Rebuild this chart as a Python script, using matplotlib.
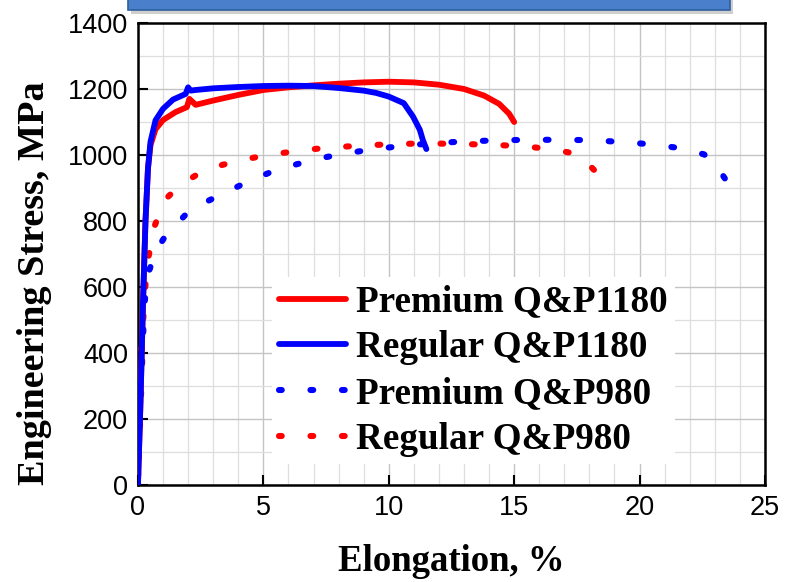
import numpy as np
import matplotlib.pyplot as plt
from matplotlib.patches import FancyBboxPatch
from matplotlib.ticker import MultipleLocator

# Premium Q&P1180 (red, solid)
prem1180_x = [0, 0.1, 0.2, 0.3, 0.4, 0.5, 0.7, 1.0, 1.5, 1.95, 2.05, 2.3, 3, 4, 5, 6, 7, 8, 9, 10,
              11, 12, 13, 13.8, 14.4, 14.8, 15.0]
prem1180_y = [0, 250, 550, 800, 960, 1030, 1078, 1106, 1130, 1145, 1170, 1152, 1165, 1182, 1197, 1205,
              1211, 1216, 1220, 1222, 1220, 1213, 1200, 1180, 1155, 1125, 1100]

# Regular Q&P1180 (blue, solid)
reg1180_x = [0, 0.1, 0.2, 0.3, 0.4, 0.5, 0.7, 1.0, 1.4, 1.9, 2.0, 2.1, 2.3, 3, 4, 5, 6, 7, 8, 9,
             9.5, 10, 10.6, 10.97, 11.24, 11.36, 11.5]
reg1180_y = [0, 250, 550, 800, 960, 1040, 1105, 1140, 1168, 1185, 1205, 1195, 1197, 1202, 1206, 1209,
             1210, 1209, 1203, 1195, 1188, 1177, 1157, 1116, 1076, 1045, 1018]

# Premium Q&P980 (blue, dotted)
prem980_x = [0, 0.08, 0.16, 0.24, 0.3, 0.44, 0.72, 1.14, 1.6, 2.07, 3.14, 4.33, 5.26, 6.33, 7.39,
             8.45, 9.65, 11.04, 12.24, 13.4, 14.59, 15.79, 16.96, 18.0, 19.19, 20.35, 21.5, 22.57,
             23.0, 23.4]
prem980_y = [0, 180, 360, 520, 585, 648, 710, 760, 795, 833, 874, 917, 947, 972, 992, 1007, 1020,
             1031, 1038, 1042, 1045, 1046, 1046, 1045, 1040, 1033, 1022, 1002, 975, 929]

# Regular Q&P980 (red, dotted)
reg980_x = [0, 0.05, 0.12, 0.19, 0.25, 0.32, 0.41, 0.55, 0.68, 0.88, 1.14, 1.52, 1.87, 2.43, 3.36,
            4.33, 5.35, 6.86, 7.92, 9.08, 10.18, 11.38, 12.57, 14.06, 15.23, 16.36, 17.38, 17.8, 18.18]
reg980_y = [0, 237, 389, 468, 561, 626, 687, 742, 788, 828, 869, 897, 918, 944, 970, 988, 1002,
            1017, 1024, 1029, 1033, 1035, 1034, 1031, 1027, 1019, 1005, 985, 955]

DOT_ON, DOT_OFF, DOT_LW = 0.45, 4.7, 4.4

fig = plt.figure(figsize=(7.87, 5.82), dpi=100)
ax = fig.add_axes([0.1753, 0.1667, 0.7967, 0.7938])

# cut-off title box at the top
box = FancyBboxPatch((0.163, 0.982), 0.765, 0.04, boxstyle="square,pad=0",
                     transform=fig.transFigure, facecolor="#4a7fcb", edgecolor="#2f5f9e",
                     linewidth=1.2, zorder=5)
shadow = FancyBboxPatch((0.166, 0.976), 0.765, 0.04, boxstyle="square,pad=0",
                        transform=fig.transFigure, facecolor="#bbbbbb", edgecolor="none",
                        zorder=4, alpha=0.7)
fig.patches.extend([shadow, box])

ax.set_xlim(0, 25)
ax.set_ylim(0, 1400)


def dotted(x, y, color, label):
    # shift the dot pattern so that the curve ends on a dot
    pts = ax.transData.transform(np.column_stack([x, y]))
    length = np.sum(np.hypot(*np.diff(pts, axis=0).T)) * 72 / fig.dpi / DOT_LW
    period = DOT_ON + DOT_OFF
    offset = (-(length - DOT_ON)) % period
    ax.plot(x, y, color=color, lw=DOT_LW, ls=(offset, (DOT_ON, DOT_OFF)),
            dash_capstyle="round", label=label, zorder=3)


ax.plot(prem1180_x, prem1180_y, color="#ff0000", lw=4.2, solid_capstyle="round",
        label="Premium Q&P1180", zorder=4)
ax.plot(reg1180_x, reg1180_y, color="#0000ff", lw=4.2, solid_capstyle="round",
        label="Regular Q&P1180", zorder=4)
dotted(prem980_x, prem980_y, "#0000ff", "Premium Q&P980")
dotted(reg980_x, reg980_y, "#ff0000", "Regular Q&P980")

ax.xaxis.set_major_locator(MultipleLocator(5))
ax.xaxis.set_minor_locator(MultipleLocator(1))
ax.yaxis.set_major_locator(MultipleLocator(200))
ax.yaxis.set_minor_locator(MultipleLocator(100))
ax.grid(which="minor", color="#dedede", lw=0.9)
ax.grid(which="major", color="#c4c4c4", lw=1.0)
ax.set_axisbelow(True)

ax.tick_params(which="major", direction="in", length=7, width=1.5, labelsize=19.5, pad=7)
ax.tick_params(which="minor", length=0)
for lab in ax.get_xticklabels() + ax.get_yticklabels():
    lab.set_family("Liberation Sans")
for sp in ax.spines.values():
    sp.set_linewidth(1.8)

ax.set_xlabel("Elongation, %", family="Liberation Serif", weight="bold", fontsize=26.5)
ax.xaxis.set_label_coords(0.5, -0.128)
ax.set_ylabel("Engineering Stress, MPa", family="Liberation Serif", weight="bold", fontsize=27.5)
ax.yaxis.set_label_coords(-0.137, 0.437)

leg = ax.legend(loc="upper left", bbox_to_anchor=(0.213, 0.45), frameon=True, fancybox=False,
                prop={"family": "Liberation Serif", "weight": "bold", "size": 26.7},
                handlelength=1.8, handletextpad=0.27, labelspacing=0.29, borderpad=0.2,
                borderaxespad=0)
leg.get_frame().set_facecolor("white")
leg.get_frame().set_edgecolor("none")
leg.get_frame().set_alpha(1)
for line in leg.get_lines()[2:]:
    line.set_linestyle((0, (DOT_ON, DOT_OFF)))

fig.savefig("out.png", dpi=100)
